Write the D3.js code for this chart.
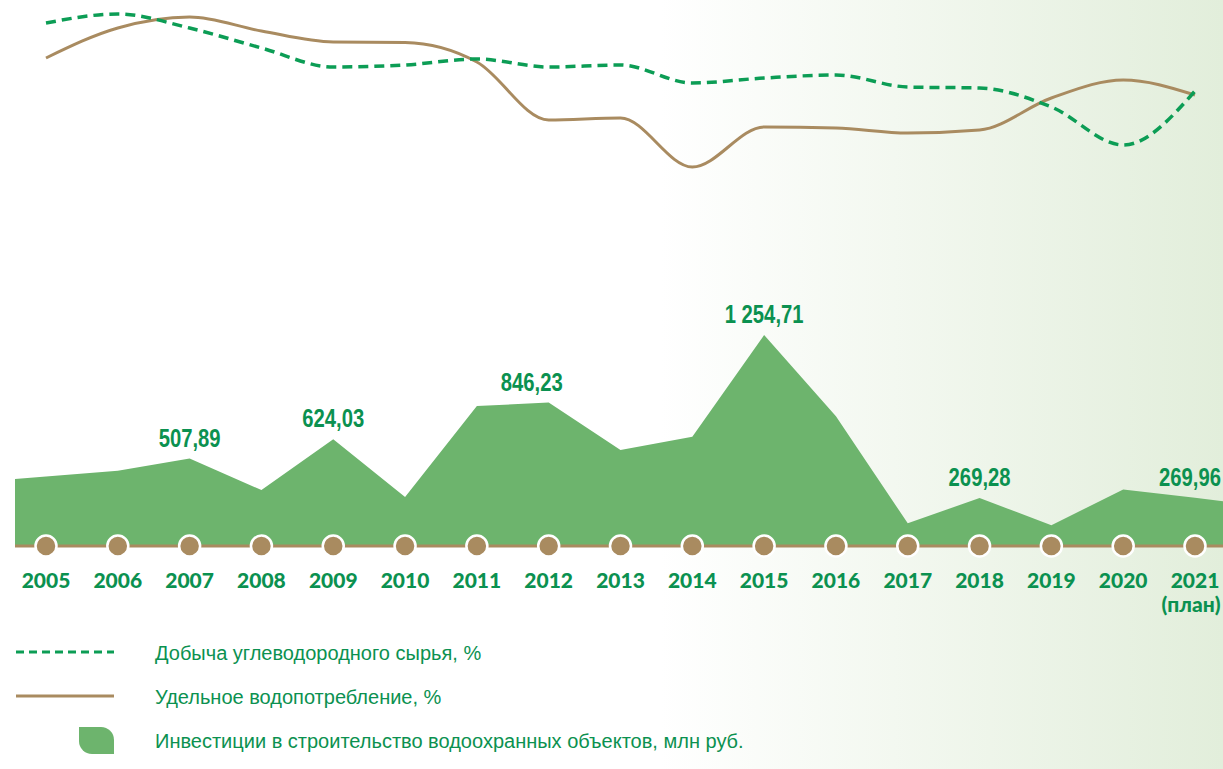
<!DOCTYPE html>
<html>
<head>
<meta charset="utf-8">
<script src="https://cdn.jsdelivr.net/npm/d3@7"></script>
<style>
  html, body { margin: 0; padding: 0; background: #fff; }
  svg { display: block; }
</style>
</head>
<body>
<script>
'use strict';

// years on the axis
const years = [2005, 2006, 2007, 2008, 2009, 2010, 2011, 2012, 2013, 2014, 2015, 2016, 2017, 2018, 2019, 2020, 2021];

// investments, mln rub (labelled ones are read from the chart, the rest estimated)
const investments = [399, 434, 507.89, 317, 624.03, 275, 825, 846.23, 559, 639, 1254.71, 764, 116, 269.28, 104, 321, 269.96];

// hydrocarbon production, % (relative index)
const production = [157, 166, 152, 132, 113, 115, 121, 113, 115, 97, 102, 105, 93, 92, 73, 35, 89];

// specific water consumption, % (relative index)
const waterUse = [122, 152, 163, 149, 138, 137.5, 118, 60, 62, 13, 53, 52, 47, 50, 82, 100, 85];

// which investment points carry a value label
const labelled = [
  { year: 2007, text: '507,89', dx: 0 },
  { year: 2009, text: '624,03', dx: 0 },
  { year: 2012, text: '846,23', dx: -17 },
  { year: 2015, text: '1 254,71', dx: 0 },
  { year: 2018, text: '269,28', dx: 0 },
  { year: 2021, text: '269,96', dx: -5 }
];

const legendItems = [
  'Добыча углеводородного сырья, %',
  'Удельное водопотребление, %',
  'Инвестиции в строительство водоохранных объектов, млн руб.'
];

const W = 1223, H = 769;
const GREEN = '#0b9150';
const DASH = '#0c9d55';
const BROWN = '#a98b60';
const AREA = '#6db46d';
const axisY = 546;

const svg = d3.select('body').append('svg')
  .attr('width', W)
  .attr('height', H);

// background fade to light green on the right
const defs = svg.append('defs');
const grad = defs.append('linearGradient')
  .attr('id', 'bg')
  .attr('x1', 0).attr('x2', 1).attr('y1', 0).attr('y2', 0);
grad.append('stop').attr('offset', '0.54').attr('stop-color', '#ffffff');
grad.append('stop').attr('offset', '1').attr('stop-color', '#e2eedb');
svg.append('rect')
  .attr('width', W).attr('height', H)
  .attr('fill', 'url(#bg)');

const x = d3.scaleLinear().domain([2005, 2021]).range([46, 1195]);
const yArea = d3.scaleLinear().domain([0, 1254.71]).range([542.5, 335]);
const yTop = d3.scaleLinear().domain([0, 180]).range([180, 0]);

// ---- investments area ----
let pts = years.map((yr, i) => [x(yr), yArea(investments[i])]);
// continue the first and last segments out to the page edges
const edge = (a, b, xe) => [xe, a[1] + (b[1] - a[1]) * (xe - a[0]) / (b[0] - a[0])];
pts = [edge(pts[0], pts[1], 15)].concat(pts, [edge(pts[pts.length - 2], pts[pts.length - 1], W)]);

svg.append('path')
  .datum(pts)
  .attr('fill', AREA)
  .attr('d', d3.area().x(d => d[0]).y0(axisY).y1(d => d[1]));

// axis line with dots
svg.append('line')
  .attr('x1', 15).attr('x2', W)
  .attr('y1', axisY).attr('y2', axisY)
  .attr('stroke', BROWN)
  .attr('stroke-width', 3);

svg.selectAll('.dot')
  .data(years)
  .enter()
  .append('circle')
    .attr('cx', d => x(d))
    .attr('cy', axisY)
    .attr('r', 10.5)
    .attr('fill', BROWN)
    .attr('stroke', '#fff')
    .attr('stroke-width', 2.5);

// year labels
const yearFont = '900 21px Lato, "Liberation Sans", Arial, sans-serif';
svg.selectAll('.year')
  .data(years)
  .enter()
  .append('text')
    .attr('x', d => x(d))
    .attr('y', 588)
    .attr('text-anchor', 'middle')
    .attr('fill', GREEN)
    .style('font', yearFont)
    .text(d => d);

svg.append('text')
  .attr('x', x(2021) - 4)
  .attr('y', 612)
  .attr('text-anchor', 'middle')
  .attr('fill', GREEN)
  .style('font', yearFont)
  .text('(план)');

// value labels, condensed horizontally
svg.selectAll('.val')
  .data(labelled)
  .enter()
  .append('text')
    .attr('transform', d => 'translate(' + (x(d.year) + d.dx) + ',' +
      (yArea(investments[years.indexOf(d.year)]) - 12) + ') scale(0.81,1)')
    .attr('text-anchor', 'middle')
    .attr('fill', GREEN)
    .style('font', 'bold 25px "Liberation Sans", Arial, sans-serif')
    .text(d => d.text);

// ---- top index lines ----
const line = d3.line()
  .x((d, i) => x(years[i]))
  .y(d => yTop(d))
  .curve(d3.curveMonotoneX);

svg.append('path')
  .datum(waterUse)
  .attr('fill', 'none')
  .attr('stroke', BROWN)
  .attr('stroke-width', 3)
  .attr('d', line);

svg.append('path')
  .datum(production)
  .attr('fill', 'none')
  .attr('stroke', DASH)
  .attr('stroke-width', 3.5)
  .attr('stroke-dasharray', '10,6')
  .attr('d', line);

// ---- legend ----
const lg = svg.append('g');
lg.append('line')
  .attr('x1', 16).attr('x2', 114).attr('y1', 652).attr('y2', 652)
  .attr('stroke', DASH).attr('stroke-width', 3)
  .attr('stroke-dasharray', '8,5');
lg.append('line')
  .attr('x1', 16).attr('x2', 114).attr('y1', 696).attr('y2', 696)
  .attr('stroke', BROWN).attr('stroke-width', 3);
// leaf-shaped swatch: rounded top-right and bottom-left corners
lg.append('path')
  .attr('fill', AREA)
  .attr('d', 'M79,727 H101 A13,13 0 0 1 114,740 V754 H92 A13,13 0 0 1 79,741 Z');

lg.selectAll('.leg')
  .data(legendItems)
  .enter()
  .append('text')
    .attr('x', 155)
    .attr('y', (d, i) => 660 + i * 44)
    .attr('fill', GREEN)
    .style('font', '20px "Liberation Sans", Arial, sans-serif')
    .text(d => d);
</script>
</body>
</html>
